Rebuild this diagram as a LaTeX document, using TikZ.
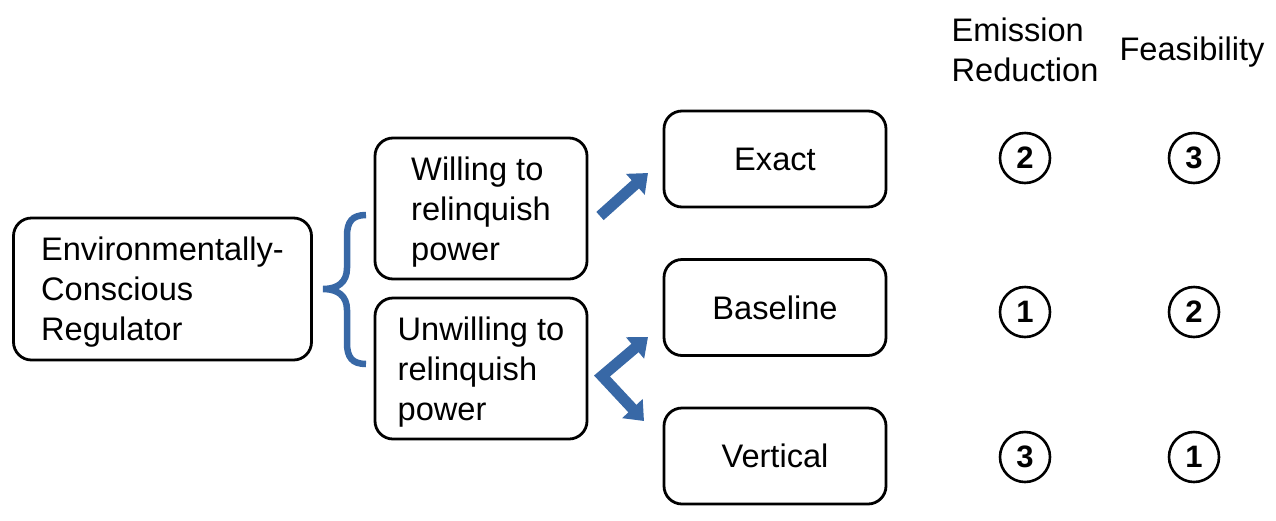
\documentclass[tikz,border=0pt]{standalone}
\usepackage{fontspec}
\setmainfont{Liberation Sans}
\usetikzlibrary{arrows.meta}
\definecolor{arrowblue}{RGB}{56,104,166}
\tikzset{bigtip/.tip={Triangle[width=27pt,length=17pt]}}
\begin{document}
\begin{tikzpicture}[x=1pt,y=-1pt,
  box/.style={draw=black, line width=2.8pt, rounded corners=18pt, inner sep=0pt,
    align=left, text depth=0pt, font=\fontsize{32.6}{40}\selectfont},
  score/.style={draw=black, line width=2.6pt, circle, minimum size=50pt, inner sep=0pt,
    font=\fontsize{31}{31}\selectfont\bfseries},
  head/.style={align=left, font=\fontsize{32.6}{40}\selectfont, inner sep=0pt},
  blockarrow/.style={draw=arrowblue, line width=11pt, line join=miter}
]
\useasboundingbox (0,0) rectangle (1276,520);

\node[box, minimum width=298pt, minimum height=142pt] (reg) at (162.5,289)
  {Environmentally-\\Conscious\\Regulator};
\node[box, minimum width=212pt, minimum height=141pt] (will) at (481,208.5)
  {Willing to\\relinquish\\power};
\node[box, minimum width=212pt, minimum height=141pt] (unwill) at (481,368.5)
  {Unwilling to\\relinquish\\power};

\node[box, minimum width=222pt, minimum height=96pt, align=center] (exact) at (775,159) {Exact};
\node[box, minimum width=222pt, minimum height=96pt, align=center] (base) at (775,307.5) {Baseline};
\node[box, minimum width=222pt, minimum height=96pt, align=center] (vert) at (775,456) {Vertical};

% headers
\node[head] (emis) at (1025,50) {Emission\\Reduction};
\node[head, anchor=base] (feas) at (1192,60) {Feasibility};

% scores
\node[score] (e1) at (1025,158) {2};
\node[score] (f1) at (1194,158) {3};
\node[score] (e2) at (1025,312) {1};
\node[score] (f2) at (1194,312) {2};
\node[score] (e3) at (1025,457) {3};
\node[score] (f3) at (1194,457) {1};

% brace
\draw[arrowblue, line width=6.5pt]
  (366,215) .. controls (352,215) and (347,222) .. (347,236)
  -- (347,268) .. controls (347,282) and (338,289) .. (323,289)
  .. controls (338,289) and (347,296) .. (347,310)
  -- (347,343) .. controls (347,357) and (352,364) .. (366,364);

% arrows
\coordinate (a1s) at (600,216);
\coordinate (a1e) at (648,173);
\draw[blockarrow, -bigtip] (a1s) -- (a1e);

\coordinate (cor) at (602,376);
\coordinate (a2e) at (648,337);
\coordinate (a3e) at (644,421);
\draw[blockarrow, bigtip-bigtip] (a2e) -- (cor) -- (a3e);
\end{tikzpicture}
\end{document}
